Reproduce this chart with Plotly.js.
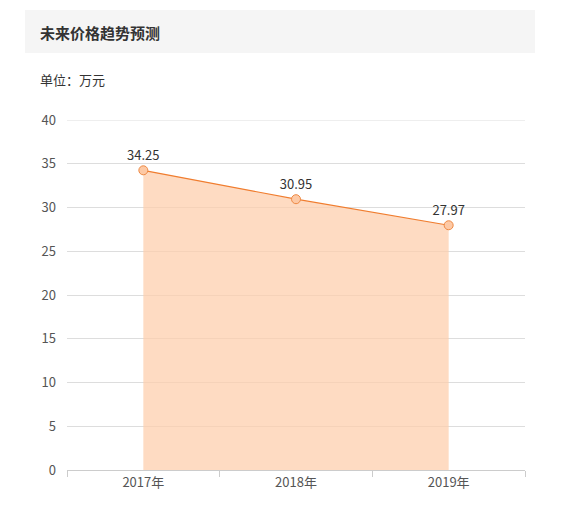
<!DOCTYPE html>
<html>
<head>
<meta charset="utf-8">
<script src="https://cdn.plot.ly/plotly-3.0.1.min.js"></script>
<style>
  html, body { margin: 0; padding: 0; background: #fff; }
  #chart { width: 564px; height: 517px; }
</style>
</head>
<body>
<div id="chart"></div>
<script>
const years = ["2017年", "2018年", "2019年"];
const prices = [34.25, 30.95, 27.97];
const priceLabels = ["34.25", "30.95", "27.97"];
const yTicks = [0, 5, 10, 15, 20, 25, 30, 35, 40];
const yMax = 40;

const fontFamily = '"Noto Sans CJK SC", "Noto Sans", sans-serif';

// plot area in pixels, used to place the header box in paper coords
const plotLeft = 67, plotRight = 525, plotTop = 120, plotBottom = 470;
const px2x = (px) => (px - plotLeft) / (plotRight - plotLeft);
const px2y = (py) => (plotBottom - py) / (plotBottom - plotTop);

const trace = {
  type: "scatter",
  mode: "lines+markers+text",
  x: years,
  y: prices,
  text: priceLabels,
  textposition: "top center",
  textfont: { family: fontFamily, size: 13, color: "#333" },
  fill: "tozeroy",
  fillcolor: "rgba(253,205,170,0.72)",
  line: { color: "#f07d2f", width: 1.2 },
  marker: {
    size: 9,
    color: "#fdc9a5",
    line: { color: "#ee8a45", width: 1 },
  },
  hoverinfo: "skip",
  cliponaxis: false,
};

const layout = {
  width: 564,
  height: 517,
  margin: { l: plotLeft, r: 564 - plotRight, t: plotTop, b: 517 - plotBottom },
  paper_bgcolor: "#fff",
  plot_bgcolor: "#fff",
  showlegend: false,
  font: { family: fontFamily, color: "#555" },
  xaxis: {
    type: "category",
    range: [-0.5, 2.5],
    tickson: "boundaries",
    ticks: "outside",
    ticklen: 6,
    tickcolor: "#ccc",
    showline: true,
    linecolor: "#ccc",
    showgrid: false,
    tickfont: { family: fontFamily, size: 13, color: "#555" },
    fixedrange: true,
  },
  yaxis: {
    range: [0, yMax],
    tickvals: yTicks,
    showline: false,
    showgrid: true,
    gridcolor: "#ddd",
    zeroline: false,
    ticks: "",
    ticklabelstandoff: 10,
    tickfont: { family: fontFamily, size: 13, color: "#555" },
    fixedrange: true,
  },
  shapes: [
    {
      type: "rect",
      xref: "paper",
      yref: "paper",
      x0: px2x(25),
      x1: px2x(535),
      y0: px2y(53),
      y1: px2y(10),
      fillcolor: "#f5f5f5",
      line: { width: 0 },
      layer: "below",
    },
    // top gridline, plotly skips it at the edge of the range
    {
      type: "line",
      xref: "paper",
      yref: "y",
      x0: 0,
      x1: 1,
      y0: yMax,
      y1: yMax,
      line: { color: "#ddd", width: 1 },
      layer: "below",
    },
  ],
  annotations: [
    {
      xref: "paper",
      yref: "paper",
      x: px2x(38),
      y: px2y(32),
      xanchor: "left",
      yanchor: "middle",
      showarrow: false,
      text: "<b>未来价格趋势预测</b>",
      font: { family: fontFamily, size: 15, color: "#333" },
    },
    {
      xref: "paper",
      yref: "paper",
      x: px2x(38),
      y: px2y(80),
      xanchor: "left",
      yanchor: "middle",
      showarrow: false,
      text: "单位：万元",
      font: { family: fontFamily, size: 13, color: "#333" },
    },
  ],
};

Plotly.newPlot("chart", [trace], layout, { displayModeBar: false, staticPlot: true });
</script>
</body>
</html>
